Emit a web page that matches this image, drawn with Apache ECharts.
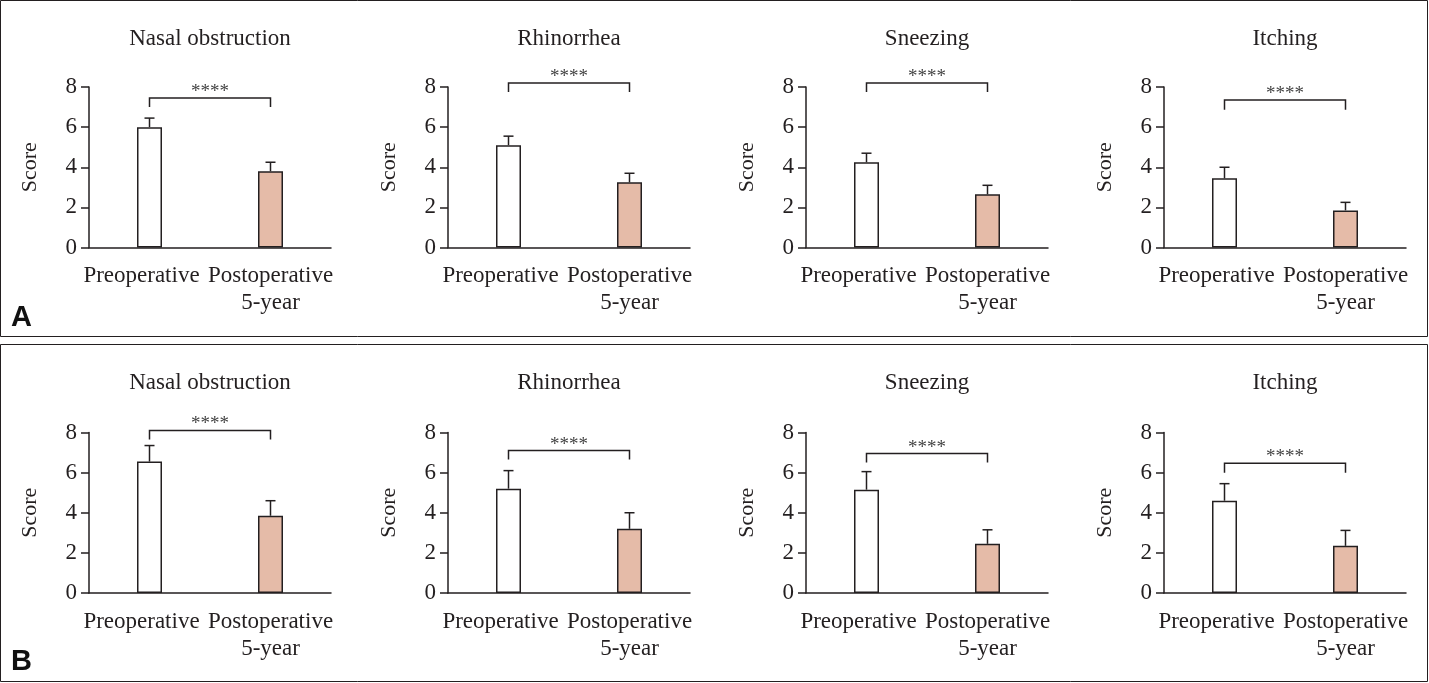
<!DOCTYPE html>
<html>
<head>
<meta charset="utf-8">
<script src="https://cdn.jsdelivr.net/npm/echarts@6/dist/echarts.min.js"></script>
<style>html,body{margin:0;padding:0;background:#fff}#c{width:1429px;height:683px}</style>
</head>
<body>
<div id="c"></div>
<script>
const symptoms = ['Nasal obstruction', 'Rhinorrhea', 'Sneezing', 'Itching'];
const groups = ['Preoperative', 'Postoperative\n5-year'];
const yMin = 0, yMax = 8, yInterval = 2;
const panelLabels = ['A', 'B'];
const stars = '****';

// Panel A
const preMeanA  = [6.0, 5.1, 4.25, 3.45];
const postMeanA = [3.8, 3.25, 2.65, 1.85];
const preTopA   = [6.45, 5.55, 4.7, 4.0];
const postTopA  = [4.25, 3.7, 3.1, 2.25];
const bracketA     = [7.45, 8.2, 8.2, 7.35];
const bracketFootA = [7.0, 7.75, 7.75, 6.87];

// Panel B
const preMeanB  = [6.55, 5.2, 5.15, 4.6];
const postMeanB = [3.85, 3.2, 2.45, 2.35];
const preTopB   = [7.35, 6.1, 6.05, 5.45];
const postTopB  = [4.6, 4.0, 3.15, 3.12];
const bracketB     = [8.1, 7.1, 6.95, 6.47];
const bracketFootB = [7.65, 6.65, 6.5, 6.0];

const INK = '#231f20';
const FILL = '#e5bba8';
const SERIF = '"Liberation Serif", "DejaVu Serif", serif';

const panels = [
  {pre: preMeanA, post: postMeanA, preTop: preTopA, postTop: postTopA, br: bracketA, bf: bracketFootA, gridTop: 87, titleTop: 27},
  {pre: preMeanB, post: postMeanB, preTop: preTopB, postTop: postTopB, br: bracketB, bf: bracketFootB, gridTop: 432.5, titleTop: 371}
];
const gridLefts = [89, 448, 806, 1164];
const gridWidth = 242;
const gridHeight = 160.5;

const grids = [], xAxes = [], yAxes = [], series = [], titles = [];
let idx = 0;
panels.forEach((p) => {
  symptoms.forEach((name, i) => {
    grids.push({left: gridLefts[i], top: p.gridTop, width: gridWidth, height: gridHeight, containLabel: false, outerBoundsMode: 'none'});
    titles.push({
      text: name, left: gridLefts[i] + gridWidth / 2, top: p.titleTop, textAlign: 'center', padding: 0,
      textStyle: {fontFamily: SERIF, fontSize: 23, fontWeight: 'normal', color: INK}
    });
    xAxes.push({
      type: 'category', gridIndex: idx, data: groups, boundaryGap: true,
      axisLine: {lineStyle: {color: INK, width: 1.5}},
      axisTick: {alignWithLabel: true, length: 9, lineStyle: {color: INK, width: 1.5}},
      axisLabel: {
        interval: 0, margin: 15, color: INK, fontFamily: SERIF, fontSize: 23, lineHeight: 27,
        formatter: (v, k) => k === 0 ? '{p|' + v + '}' : v,
        rich: {p: {fontFamily: SERIF, fontSize: 23, lineHeight: 27, color: INK, padding: [0, 16, 0, 0]}}
      },
      splitLine: {show: false}
    });
    yAxes.push({
      type: 'value', gridIndex: idx, min: yMin, max: yMax, interval: yInterval,
      name: 'Score', nameLocation: 'middle', nameGap: 48,
      nameTextStyle: {fontFamily: SERIF, fontSize: 22, color: INK},
      axisLine: {show: true, lineStyle: {color: INK, width: 1.5}},
      axisTick: {show: true, length: 8, lineStyle: {color: INK, width: 1.5}},
      axisLabel: {margin: 12, color: INK, fontFamily: SERIF, fontSize: 23},
      splitLine: {show: false}
    });
    series.push({
      type: 'bar', xAxisIndex: idx, yAxisIndex: idx, barWidth: 25, silent: true,
      data: [
        {value: p.pre[i], itemStyle: {color: '#ffffff'}},
        {value: p.post[i], itemStyle: {color: FILL}}
      ],
      itemStyle: {borderColor: INK, borderWidth: 1.5}
    });
    series.push({
      type: 'custom', xAxisIndex: idx, yAxisIndex: idx, silent: true, z: 5,
      encode: {x: 0, y: [1, 2]},
      data: [[0, p.pre[i], p.preTop[i]], [1, p.post[i], p.postTop[i]]],
      renderItem: (params, api) => {
        const c = api.value(0), m = api.value(1), t = api.value(2);
        const a = api.coord([c, m]), b = api.coord([c, t]);
        const st = {stroke: INK, lineWidth: 1.5, fill: null};
        return {type: 'group', children: [
          {type: 'line', shape: {x1: a[0], y1: a[1], x2: b[0], y2: b[1]}, style: st},
          {type: 'line', shape: {x1: b[0] - 5, y1: b[1], x2: b[0] + 5, y2: b[1]}, style: st}
        ]};
      }
    });
    series.push({
      type: 'custom', xAxisIndex: idx, yAxisIndex: idx, silent: true, z: 5,
      encode: {x: [0, 1], y: [2, 3]},
      data: [[0, 1, p.br[i], p.bf[i]]],
      renderItem: (params, api) => {
        const l = api.value(2), f = api.value(3);
        const a = api.coord([0, l]), b = api.coord([1, l]);
        const af = api.coord([0, f]), bf = api.coord([1, f]);
        return {type: 'group', children: [
          {type: 'polyline', shape: {points: [af, a, b, bf]}, style: {stroke: INK, lineWidth: 1.5, fill: null}},
          {type: 'text', style: {text: stars, x: (a[0] + b[0]) / 2, y: a[1] - 6, align: 'center', verticalAlign: 'middle',
            font: '19px ' + SERIF, fill: '#444'}}
        ]};
      }
    });
    idx++;
  });
});

const chart = echarts.init(document.getElementById('c'), null, {renderer: 'canvas'});
chart.setOption({
  animation: false,
  backgroundColor: '#ffffff',
  title: titles,
  grid: grids,
  xAxis: xAxes,
  yAxis: yAxes,
  series: series,
  graphic: [
    {type: 'rect', shape: {x: 0.5, y: 0.5, width: 1427, height: 336}, style: {fill: null, stroke: INK, lineWidth: 1}, silent: true},
    {type: 'rect', shape: {x: 0.5, y: 344.5, width: 1427, height: 337}, style: {fill: null, stroke: INK, lineWidth: 1}, silent: true},
    {type: 'text', x: 11, y: 318, style: {text: panelLabels[0], font: 'bold 29px "Liberation Sans", Arial, sans-serif', fill: '#111', verticalAlign: 'middle'}, silent: true},
    {type: 'text', x: 11, y: 662, style: {text: panelLabels[1], font: 'bold 29px "Liberation Sans", Arial, sans-serif', fill: '#111', verticalAlign: 'middle'}, silent: true}
  ]
});
</script>
</body>
</html>
